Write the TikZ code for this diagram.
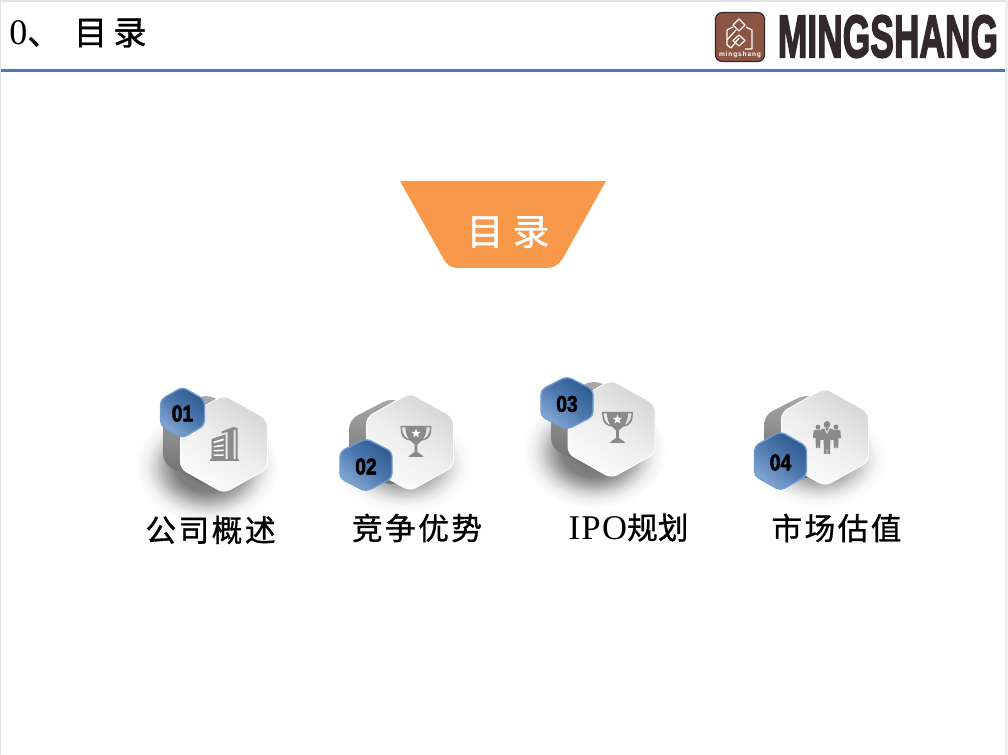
\documentclass[tikz,border=0pt]{standalone}
\usepackage{fontspec}
\setmainfont{Liberation Serif}
\newfontfamily\cjk[FakeBold=1]{Noto Sans CJK SC}
\newfontfamily\cjkspaced[LetterSpace=8,FakeBold=1]{Noto Sans CJK SC}
\newfontfamily\numfont[FakeBold=2.6]{Liberation Sans Bold}
\newfontfamily\logofont[FakeBold=3]{Liberation Sans Bold}
\newfontfamily\tinyfont[LetterSpace=12]{Liberation Sans Bold}
\newfontfamily\latinspaced[LetterSpace=4]{Liberation Serif}
\usetikzlibrary{shadings}
\definecolor{rule}{HTML}{4A7AB0}
\definecolor{banner}{HTML}{F8984B}
\definecolor{icon}{HTML}{8A8A8A}
\definecolor{logobrown}{HTML}{8C5443}
\definecolor{logodark}{HTML}{33292A}
\definecolor{frame}{HTML}{E2E2E2}
\definecolor{bluedark}{HTML}{2F5A8E}
\definecolor{bluelight}{HTML}{86A8D4}
\definecolor{blueedge}{HTML}{6E9BD0}
\definecolor{HexTop}{HTML}{D6D6D6}
\definecolor{HexMid}{HTML}{EDEDED}
\definecolor{HexBot}{HTML}{FCFCFC}
\definecolor{BackTop}{HTML}{ABABAB}
\definecolor{BackBot}{HTML}{6F6F6F}
\definecolor{BlueMid}{HTML}{4F7AB0}
\pgfdeclareradialshading{softdark}{\pgfpointorigin}{%
  color(0bp)=(black!55); color(11bp)=(black!50); color(15bp)=(black!32);
  color(18bp)=(black!17); color(21bp)=(black!6); color(25bp)=(white); color(50bp)=(white)}
\pgfdeclareradialshading{softlight}{\pgfpointorigin}{%
  color(0bp)=(black!40); color(11bp)=(black!35); color(15bp)=(black!20);
  color(18bp)=(black!10); color(21bp)=(black!3); color(25bp)=(white); color(50bp)=(white)}
\tikzset{
  x=0.75pt,y=-0.75pt,
  mainhex/.style={rounded corners=5pt,draw=white,line width=.7pt,
    top color=HexTop,bottom color=HexBot,middle color=HexMid,shading angle=-35},
  backhex/.style={rounded corners=7pt,top color=BackTop,bottom color=BackBot,shading angle=-10},
  bluehex/.style={rounded corners=3.5pt,draw=blueedge,line width=1pt,
    top color=bluedark,bottom color=bluelight,middle color=BlueMid,shading angle=-40},
  label/.style={font=\cjkspaced\fontsize{23pt}{25pt}\selectfont,text=black,inner sep=0pt},
  numlabel/.style={font=\numfont\fontsize{17pt}{18pt}\selectfont,xscale=.85,text=black,inner sep=0pt},
  iconfill/.style={fill=icon,draw=none},
  logoline/.style={draw=white,line width=.9pt,line join=round}
}
\newcommand{\hexpath}[4]{({#1},{#2-#4}) -- ({#1+#3},{#2-#4/2}) -- ({#1+#3},{#2+#4/2}) -- ({#1},{#2+#4}) -- ({#1-#3},{#2+#4/2}) -- ({#1-#3},{#2-#4/2}) -- cycle}
\newcommand{\trophy}[2]{%
  \begin{scope}[shift={(#1,#2)}]
    \path[iconfill,even odd rule] (-15.5,-15.5) -- (15.5,-15.5) -- (15,-9) .. controls (14,-3) and (9,-1) .. (6,-1) .. controls (4,1) and (2,2) .. (1.3,3) -- (1.3,10) .. controls (2,12) and (5,12) .. (8,15.5) -- (-8,15.5) .. controls (-5,12) and (-2,12) .. (-1.3,10) -- (-1.3,3) .. controls (-2,2) and (-4,1) .. (-6,-1) .. controls (-9,-1) and (-14,-3) .. (-15,-9) -- cycle
    (-14,-14) -- (-10.5,-14) .. controls (-10.5,-9) and (-9,-5) .. (-7,-2.5) .. controls (-10,-3) and (-13.5,-6) .. (-14,-14) -- cycle
    (14,-14) -- (10.5,-14) .. controls (10.5,-9) and (9,-5) .. (7,-2.5) .. controls (10,-3) and (13.5,-6) .. (14,-14) -- cycle;
    \path[fill=white,shift={(0,-8)}] (0,-4.7) -- (1.2,-1.6) -- (4.5,-1.5) -- (1.9,.6) -- (2.8,3.8) -- (0,2) -- (-2.8,3.8) -- (-1.9,.6) -- (-4.5,-1.5) -- (-1.2,-1.6) -- cycle;
  \end{scope}}
\newcommand{\building}[2]{%
  \begin{scope}[shift={(#1,#2)}]
    \path[iconfill] (-14.5,17) -- (14.5,17) -- (14.5,15.5) -- (-14.5,15.5) -- cycle;
    \path[iconfill] (-13,16) -- (-13,-5) -- (1,-9.5) -- (1,16) -- cycle;
    \path[fill=white] (-11,-2.5) -- (-1,-5.5) -- (-1,-3.5) -- (-11,-.7) -- cycle
       (-11,2) -- (-1,.5) -- (-1,2.2) -- (-11,3.5) -- cycle
       (-11,6) -- (-1,5.5) -- (-1,7) -- (-11,7.5) -- cycle
       (-11,10.5) -- (-1,10.5) -- (-1,12) -- (-11,12) -- cycle;
    \path[iconfill] (3,16) -- (3,-12) -- (-3,-10.5) -- (-3,-12.5) -- (9,-17) -- (13,-16) -- (13,16) -- (11,16) -- (11,-14.5) -- (9,-14) -- (9,16) -- cycle;
  \end{scope}}
\newcommand{\person}[3]{%
  \begin{scope}[shift={(#1,#2)},scale=#3]
    \path[iconfill] (0,-12.5) circle[radius=3.4];
    \path[iconfill] (-6,-7.5) -- (-2,-9) -- (2,-9) -- (6,-7.5) -- (7,3) -- (4.2,3) -- (3.4,2) -- (3,17) -- (.5,17) -- (0,7) -- (-.5,17) -- (-3,17) -- (-3.4,2) -- (-4.2,3) -- (-7,3) -- cycle;
  \end{scope}}
\begin{document}
\begin{tikzpicture}
\useasboundingbox (0,0) rectangle (1008,755);
\path[fill=white] (0,0) rectangle (1008,755);
\path[fill=frame] (0,0) rectangle (1008,2);
\path[fill=frame] (0,0) rectangle (1,755);
\path[fill=frame!50] (1005,0) rectangle (1008,755);
\path[fill=rule] (1,69) rectangle (1005,72);
% title
\node[anchor=west,inner sep=0pt,font=\fontsize{27pt}{29pt}\selectfont] (title) at (9,33) {0{\cjk\fontsize{25pt}{27pt}\selectfont 、\hspace{10pt}目\hspace{4.5pt}录}};
% logo
\path[fill=logobrown,draw=logodark,line width=.9pt,rounded corners=5pt] (715.5,12.5) rectangle (764.5,61.5);
\path[logoline] (733,27) -- (727,30) -- (727,45) -- (731,48) -- (739,38);
\path[logoline] (746,27) -- (752,30) -- (752,49) -- (745,49);
\path[logoline] (727,40) -- (736,30);
\path[logoline] (739,19) -- (745,25) -- (739,31) -- (733,25) -- cycle;
\path[logoline] (739,35) -- (745,40.5) -- (739,46) -- (733,40.5) -- cycle;
\node[text=white,inner sep=0pt,font=\tinyfont\fontsize{5pt}{6pt}\selectfont] (logosmall) at (740,54.5) {mingshang};
\node[text=logodark,inner sep=0pt,anchor=center,xscale=.59,font=\logofont\fontsize{45pt}{46pt}\selectfont] (logotext) at (888,36.5) {MINGSHANG};
% banner
\path[fill=banner] (400,181) -- (606,181) -- (563,258) .. controls (558,266) and (553,268) .. (546,268) -- (459,268) .. controls (452,268) and (447,266) .. (443,258) -- cycle;
\node[text=white,inner sep=0pt,font=\cjk\fontsize{27.5pt}{29pt}\selectfont] (bannertext) at (508,232) {目\hspace{7pt}录};
% item 1
\path[shading=softdark] (207,466) ellipse[x radius=72,y radius=58];
\path[backhex] \hexpath{206}{440}{43}{46.5};
\path[mainhex] \hexpath{224}{444}{43.5}{49};
\building{224.5}{444}
\path[bluehex] \hexpath{182.5}{412.5}{22}{25.5};
\node[numlabel] (n1) at (182.5,413.5) {01};
\node[label] (l1) at (210.5,530) {公司概述};
% item 2
\path[shading=softlight] (404,464) ellipse[x radius=70,y radius=50];
\path[backhex] \hexpath{392}{442}{43}{44.5};
\path[mainhex] \hexpath{410}{442}{43.5}{49};
\trophy{416}{441.5}
\path[bluehex] \hexpath{366}{465}{26}{26.5};
\node[numlabel] (n2) at (366,466.5) {02};
\node[label] (l2) at (417,528) {竞争优势};
% item 3
\path[shading=softdark] (594,451) ellipse[x radius=72,y radius=58];
\path[backhex] \hexpath{594}{425}{43}{45.5};
\path[mainhex] \hexpath{611.5}{429}{43.5}{49};
\trophy{617.5}{427.5}
\path[bluehex] \hexpath{567}{403}{26}{26.5};
\node[numlabel] (n3) at (567,404) {03};
\node[inner sep=0pt] (l3) at (628.5,527.5) {{\latinspaced\fontsize{26pt}{28pt}\selectfont IPO}{\cjk\fontsize{23pt}{25pt}\selectfont 规划}};
% item 4
\path[shading=softlight] (819,459) ellipse[x radius=70,y radius=50];
\path[backhex] \hexpath{807}{437}{43}{43.5};
\path[mainhex] \hexpath{825}{437}{43.5}{49};
\person{818}{436}{.72}
\person{836}{436}{.72}
\person{827}{437}{1}
\path[draw=white,line width=.5pt] (824.5,428) -- (827,433) -- (829.5,428);
\path[bluehex] \hexpath{780.5}{461}{26}{29.5};
\node[numlabel] (n4) at (780.5,462.5) {04};
\node[label] (l4) at (836.5,528) {市场估值};
\end{tikzpicture}
\end{document}
